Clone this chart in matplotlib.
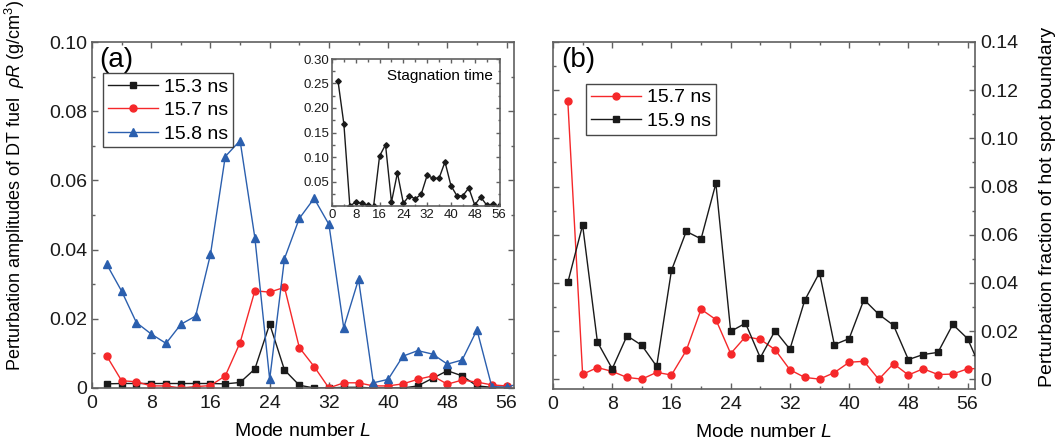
import numpy as np
import matplotlib
matplotlib.use('Agg')
import matplotlib.pyplot as plt
from matplotlib.ticker import MultipleLocator, FuncFormatter

plt.rcParams['font.family'] = ['Liberation Sans', 'DejaVu Sans']
plt.rcParams['mathtext.fontset'] = 'custom'
plt.rcParams['mathtext.rm'] = 'Liberation Sans'
plt.rcParams['mathtext.it'] = 'Liberation Sans:italic'

# ---- data ----
L = np.arange(2, 57, 2)                      # mode numbers 2..56
L_ext = np.arange(2, 59, 2)                  # lines run past the right edge

amp_153 = [0.0012, 0.0013, 0.0013, 0.0013, 0.0013, 0.0013, 0.0013, 0.0013, 0.0012, 0.0016,
           0.0055, 0.0185, 0.0052, 0.0008, 0.0000, 0.0000, 0.0002, 0.0002, 0.0000, 0.0000,
           0.0000, 0.0006, 0.0028, 0.0050, 0.0035, 0.0006, 0.0002, 0.0002]
amp_157 = [0.0092, 0.0021, 0.0018, 0.0006, 0.0006, 0.0000, 0.0004, 0.0007, 0.0035, 0.0131,
           0.0281, 0.0277, 0.0291, 0.0117, 0.0062, 0.0000, 0.0015, 0.0015, 0.0006, 0.0006,
           0.0012, 0.0025, 0.0035, 0.0011, 0.0023, 0.0017, 0.0009, 0.0006]
amp_158 = [0.0357, 0.0280, 0.0189, 0.0156, 0.0129, 0.0184, 0.0208, 0.0386, 0.0669, 0.0715,
           0.0434, 0.0025, 0.0374, 0.0490, 0.0548, 0.0473, 0.0174, 0.0314, 0.0015, 0.0025,
           0.0092, 0.0108, 0.0098, 0.0069, 0.0081, 0.0168, 0.0004, 0.0002, 0.0015]

stag = [0.256, 0.167, 0.000, 0.008, 0.0055, 0.002, 0.000, 0.102, 0.125, 0.008,
        0.0675, 0.0055, 0.021, 0.0145, 0.024, 0.0627, 0.0566, 0.0566, 0.090, 0.0416,
        0.021, 0.021, 0.0368, 0.002, 0.0184, 0.002, 0.0034, 0.000]

frac_157 = [0.1155, 0.0021, 0.0049, 0.0033, 0.0008, 0.0001, 0.0029, 0.0018, 0.0120, 0.0291,
            0.0248, 0.0107, 0.0177, 0.0166, 0.0123, 0.0040, 0.0008, 0.0001, 0.0028, 0.0071,
            0.0075, 0.0000, 0.0065, 0.0018, 0.0044, 0.0020, 0.0022, 0.0044, 0.0045]
frac_159 = [0.0402, 0.0640, 0.0155, 0.0044, 0.0181, 0.0141, 0.0054, 0.0452, 0.0614, 0.0583,
            0.0813, 0.0199, 0.0233, 0.0090, 0.0202, 0.0125, 0.0328, 0.0443, 0.0144, 0.0169,
            0.0331, 0.0270, 0.0224, 0.0082, 0.0103, 0.0112, 0.0228, 0.0169, 0.0030]

BLACK = '#1a1a1a'
RED = '#f5282a'
BLUE = '#2b5fae'
SPINE = '#606060'


def zero_fmt(v, p):
    if abs(v) < 1e-9:
        return '0'
    return '%.2f' % v


def style_axes(ax, labelsize=14):
    for s in ax.spines.values():
        s.set_color(SPINE)
        s.set_linewidth(1.2)
    ax.tick_params(which='both', direction='in', top=True, right=True,
                   color=SPINE, labelsize=labelsize, labelcolor='#1a1a1a')
    ax.tick_params(which='major', length=4.5, width=1.0)
    ax.tick_params(which='minor', length=2.5, width=1.0)


fig = plt.figure(figsize=(10.62, 4.46), dpi=100)

# ---------------- panel (a) ----------------
ax1 = fig.add_axes([92/1062, 58/446, 422/1062, 346/446])
ax1.plot(L, amp_153, '-s', color=BLACK, lw=1, ms=4.5, label='15.3 ns')
ax1.plot(L, amp_157, '-o', color=RED, mfc=RED, mec=RED, lw=1, ms=5, label='15.7 ns')
ax1.plot(L_ext, amp_158, '-^', color=BLUE, lw=1, ms=5.5, label='15.8 ns')
ax1.set_xlim(0, 57)
ax1.set_ylim(0, 0.10)
ax1.xaxis.set_major_locator(MultipleLocator(8))
ax1.xaxis.set_minor_locator(MultipleLocator(4))
ax1.yaxis.set_major_locator(MultipleLocator(0.02))
ax1.yaxis.set_minor_locator(MultipleLocator(0.01))
ax1.yaxis.set_major_formatter(FuncFormatter(zero_fmt))
style_axes(ax1)
ax1.tick_params(axis='x', pad=5)
ax1.set_xlabel('Mode number $L$', fontsize=14, labelpad=8)
ax1.set_ylabel(r'Perturbation amplitudes of DT fuel  $\rho R$ (g/cm$^3$)', fontsize=13)
ax1.yaxis.set_label_coords(-0.155, 0.585)
ax1.text(0.018, 0.985, '(a)', transform=ax1.transAxes, fontsize=20, va='top', ha='left')
leg1 = ax1.legend(loc='upper left', bbox_to_anchor=(0.026, 0.91), borderaxespad=0,
                  fontsize=14, frameon=True, fancybox=False, edgecolor='#1a1a1a',
                  handlelength=2.6, handletextpad=0.3, labelspacing=0.3, borderpad=0.25)
leg1.get_frame().set_linewidth(1.0)

# inset: stagnation time
axi = fig.add_axes([332/1062, 240/446, 168/1062, 147/446])
axi.plot(L, stag, '-D', color=BLACK, lw=1, ms=2.8)
axi.set_xlim(0, 56.5)
axi.set_ylim(0, 0.30)
axi.xaxis.set_major_locator(MultipleLocator(8))
axi.xaxis.set_minor_locator(MultipleLocator(4))
axi.yaxis.set_major_locator(MultipleLocator(0.05))
axi.yaxis.set_minor_locator(MultipleLocator(0.025))
axi.yaxis.set_major_formatter(FuncFormatter(lambda v, p: '' if abs(v) < 1e-9 else '%.2f' % v))
style_axes(axi, labelsize=9.5)
axi.tick_params(which='major', length=3, pad=2)
axi.tick_params(which='minor', length=1.8)
axi.text(0.96, 0.93, 'Stagnation time', transform=axi.transAxes, fontsize=11,
         ha='right', va='top')

# ---------------- panel (b) ----------------
ax2 = fig.add_axes([553/1062, 57/446, 422/1062, 347/446])
ax2.plot(L, frac_157[:-1], '-o', color=RED, lw=1, ms=5, label='15.7 ns', zorder=3)
ax2.plot(L_ext, frac_159, '-s', color=BLACK, lw=1, ms=4.5, label='15.9 ns', zorder=3)
ax2.plot(L_ext[-2:], frac_157[-2:], '-', color=RED, lw=1)
ax2.set_xlim(0, 57)
ax2.set_ylim(-0.004, 0.14)
ax2.xaxis.set_major_locator(MultipleLocator(8))
ax2.xaxis.set_minor_locator(MultipleLocator(4))
ax2.yaxis.set_major_locator(MultipleLocator(0.02))
ax2.yaxis.set_minor_locator(MultipleLocator(0.01))
ax2.yaxis.set_major_formatter(FuncFormatter(zero_fmt))
style_axes(ax2)
ax2.tick_params(axis='x', pad=5)
ax2.tick_params(axis='y', which='both', labelleft=False, labelright=True)
ax2.yaxis.set_label_position('right')
ax2.set_ylabel('Perturbation fraction of hot spot boundary', fontsize=14, rotation=90)
ax2.yaxis.set_label_coords(1.152, 0.524)
ax2.set_xlabel('Mode number $L$', fontsize=14, labelpad=8)
ax2.text(0.02, 0.985, '(b)', transform=ax2.transAxes, fontsize=20, va='top', ha='left')
leg2 = ax2.legend(loc='upper left', bbox_to_anchor=(0.078, 0.879), borderaxespad=0,
                  fontsize=14, frameon=True, fancybox=False, edgecolor='#1a1a1a',
                  handlelength=2.6, handletextpad=0.3, labelspacing=0.3, borderpad=0.25)
leg2.get_frame().set_linewidth(1.0)

fig.savefig('out.png', dpi=100)
